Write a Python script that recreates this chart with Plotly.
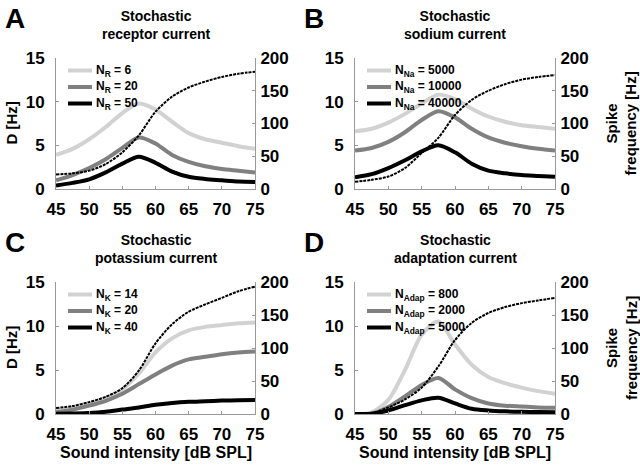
import plotly.graph_objects as go

x = [45, 47.5, 50, 52.5, 55, 57.5, 60, 62.5, 65, 67.5, 70, 72.5, 75]

# Panel A: stochastic receptor current
spike_A = [22, 24, 28, 38, 56, 82, 118, 141, 155, 164, 171, 176, 179]
A_NR6 = [3.9, 4.6, 5.7, 7.1, 8.7, 9.8, 9.1, 7.7, 6.4, 5.7, 5.3, 4.9, 4.6]
A_NR20 = [1.0, 1.6, 2.4, 3.4, 4.7, 5.9, 5.2, 3.9, 3.1, 2.6, 2.3, 2.1, 1.9]
A_NR50 = [0.4, 0.7, 1.1, 1.9, 2.9, 3.7, 3.0, 2.0, 1.4, 1.15, 1.0, 0.85, 0.8]

# Panel B: stochastic sodium current
spike_B = [11, 14, 19, 32, 55, 78, 113, 136, 150, 160, 167, 171, 174]
B_5000 = [6.6, 6.9, 7.6, 8.6, 9.8, 10.8, 10.3, 9.2, 8.3, 7.7, 7.3, 7.1, 6.9]
B_10000 = [4.4, 4.7, 5.4, 6.5, 7.9, 8.9, 8.2, 6.9, 5.9, 5.3, 4.9, 4.6, 4.4]
B_40000 = [1.35, 1.7, 2.4, 3.3, 4.3, 5.0, 4.2, 2.9, 2.1, 1.8, 1.6, 1.5, 1.4]

# Panel C: stochastic potassium current
spike_C = [9, 12, 18, 26, 39, 66, 107, 136, 155, 166, 176, 186, 193]
C_NK14 = [0.4, 0.7, 1.15, 1.8, 2.8, 4.6, 7.0, 8.6, 9.5, 9.9, 10.1, 10.3, 10.4]
C_NK20 = [0.2, 0.5, 0.95, 1.5, 2.3, 3.4, 4.5, 5.5, 6.2, 6.5, 6.8, 7.0, 7.1]
C_NK40 = [0.02, 0.05, 0.1, 0.25, 0.5, 0.75, 1.05, 1.25, 1.38, 1.45, 1.52, 1.57, 1.6]

# Panel D: stochastic adaptation current
spike_D = [0, 1, 10, 22, 40, 72, 112, 138, 153, 162, 168, 172, 176]
D_800 = [0, 0.2, 1.6, 5.0, 9.0, 10.5, 7.9, 5.6, 4.2, 3.5, 3.0, 2.6, 2.3]
D_2000 = [0, 0.05, 0.8, 2.0, 3.3, 4.1, 2.8, 1.8, 1.2, 0.95, 0.85, 0.75, 0.7]
D_5000 = [0, 0.03, 0.4, 1.0, 1.55, 1.85, 1.2, 0.6, 0.4, 0.3, 0.25, 0.22, 0.2]

x_ticks = [45, 50, 55, 60, 65, 70, 75]
d_ticks = [0, 5, 10, 15]
f_ticks = [0, 50, 100, 150, 200]

panels = [
    dict(letter="A", title="Stochastic<br>receptor current", spike=spike_A,
         series=[A_NR6, A_NR20, A_NR50],
         names=["N<sub>R</sub> = 6", "N<sub>R</sub> = 20", "N<sub>R</sub> = 50"]),
    dict(letter="B", title="Stochastic<br>sodium current", spike=spike_B,
         series=[B_5000, B_10000, B_40000],
         names=["N<sub>Na</sub> = 5000", "N<sub>Na</sub> = 10000", "N<sub>Na</sub> = 40000"]),
    dict(letter="C", title="Stochastic<br>potassium current", spike=spike_C,
         series=[C_NK14, C_NK20, C_NK40],
         names=["N<sub>K</sub> = 14", "N<sub>K</sub> = 20", "N<sub>K</sub> = 40"]),
    dict(letter="D", title="Stochastic<br>adaptation current", spike=spike_D,
         series=[D_800, D_2000, D_5000],
         names=["N<sub>Adap</sub> = 800", "N<sub>Adap</sub> = 2000", "N<sub>Adap</sub> = 5000"]),
]

W, H = 640, 466
FONT = "Liberation Sans"
colors = ["#d2d2d2", "#808080", "#000000"]

# pixel boxes of the plot areas: (left, right, top, bottom)
boxes = [(56, 255, 58, 189), (355, 555, 58, 189), (56, 255, 282, 414), (355, 555, 282, 414)]

fig = go.Figure()
annotations = []
shapes = []
layout = dict(width=W, height=H, margin=dict(l=0, r=0, t=0, b=0, autoexpand=False),
              paper_bgcolor="white", plot_bgcolor="white", showlegend=False,
              font=dict(family=FONT, color="black", weight=700))

axis_common = dict(showgrid=False, zeroline=False, showline=True, linecolor="#9a9a9a",
                   linewidth=1, ticks="inside", ticklen=3, tickcolor="#9a9a9a",
                   automargin=False,
                   tickfont=dict(family=FONT, size=17, color="black", weight=700))


def px_x(v):
    return v / W


def px_y(v):
    return 1 - v / H


def ann(text, xp, yp, size, xanchor="center", yanchor="middle", angle=0):
    annotations.append(dict(text="<b>" + text + "</b>", x=px_x(xp), y=px_y(yp),
                            xref="paper", yref="paper", xanchor=xanchor, yanchor=yanchor,
                            textangle=angle, showarrow=False,
                            font=dict(family=FONT, size=size, color="black", weight=700)))


for i, p in enumerate(panels):
    l, r, t, b = boxes[i]
    xa = "xaxis" if i == 0 else f"xaxis{i+1}"
    xref = "x" if i == 0 else f"x{i+1}"
    ly = 2 * i + 1
    ry = 2 * i + 2
    lya = "yaxis" if ly == 1 else f"yaxis{ly}"
    lyref = "y" if ly == 1 else f"y{ly}"
    rya = f"yaxis{ry}"
    ryref = f"y{ry}"

    layout[xa] = dict(axis_common, domain=[px_x(l), px_x(r)], anchor=lyref, range=[45, 75],
                      tickvals=x_ticks, ticklabelstandoff=5)
    layout[lya] = dict(axis_common, domain=[px_y(b), px_y(t)], anchor=xref, range=[0, 15],
                       tickvals=d_ticks, ticklabelstandoff=7)
    layout[rya] = dict(axis_common, domain=[px_y(b), px_y(t)], anchor=xref, overlaying=lyref,
                       side="right", range=[0, 200], tickvals=f_ticks, ticklabelstandoff=1)

    for k, (s, nm, c) in enumerate(zip(p["series"], p["names"], colors)):
        fig.add_trace(go.Scatter(x=x, y=s, name=nm, mode="lines", xaxis=xref, yaxis=lyref,
                                 line=dict(color=c, width=4, shape="spline", smoothing=0.8)))
        # legend sample + label (drawn in paper space)
        ry_px = t + 12.5 + 16.5 * k
        shapes.append(dict(type="line", xref="paper", yref="paper",
                           x0=px_x(l + 12), x1=px_x(l + 36), y0=px_y(ry_px), y1=px_y(ry_px),
                           line=dict(color=c, width=4)))
        ann(nm, l + 38, ry_px, 12, xanchor="left")
    fig.add_trace(go.Scatter(x=x, y=p["spike"], mode="lines", xaxis=xref, yaxis=ryref,
                             line=dict(color="black", width=2, dash="3px,1px",
                                       shape="spline", smoothing=0.8)))

    cxp = (l + r) / 2
    ann(p["title"], cxp, t - 52, 14, yanchor="top")
    ann(p["letter"], l - 53, t - 57, 28, xanchor="left", yanchor="top")
    if i in (0, 2):
        ann("D [Hz]", 11, (t + b) / 2, 15, angle=-90)
    else:
        ann("Spike<br>frequency [Hz]", 621, (t + b) / 2, 15, angle=-90)
    if i in (2, 3):
        ann("Sound intensity [dB SPL]", cxp, 452, 16)

layout["annotations"] = annotations
layout["shapes"] = shapes
fig.update_layout(**layout)
fig.write_html("out.html", config={"displayModeBar": False},
               post_script="document.body.style.margin='0';document.body.style.overflow='hidden';")
